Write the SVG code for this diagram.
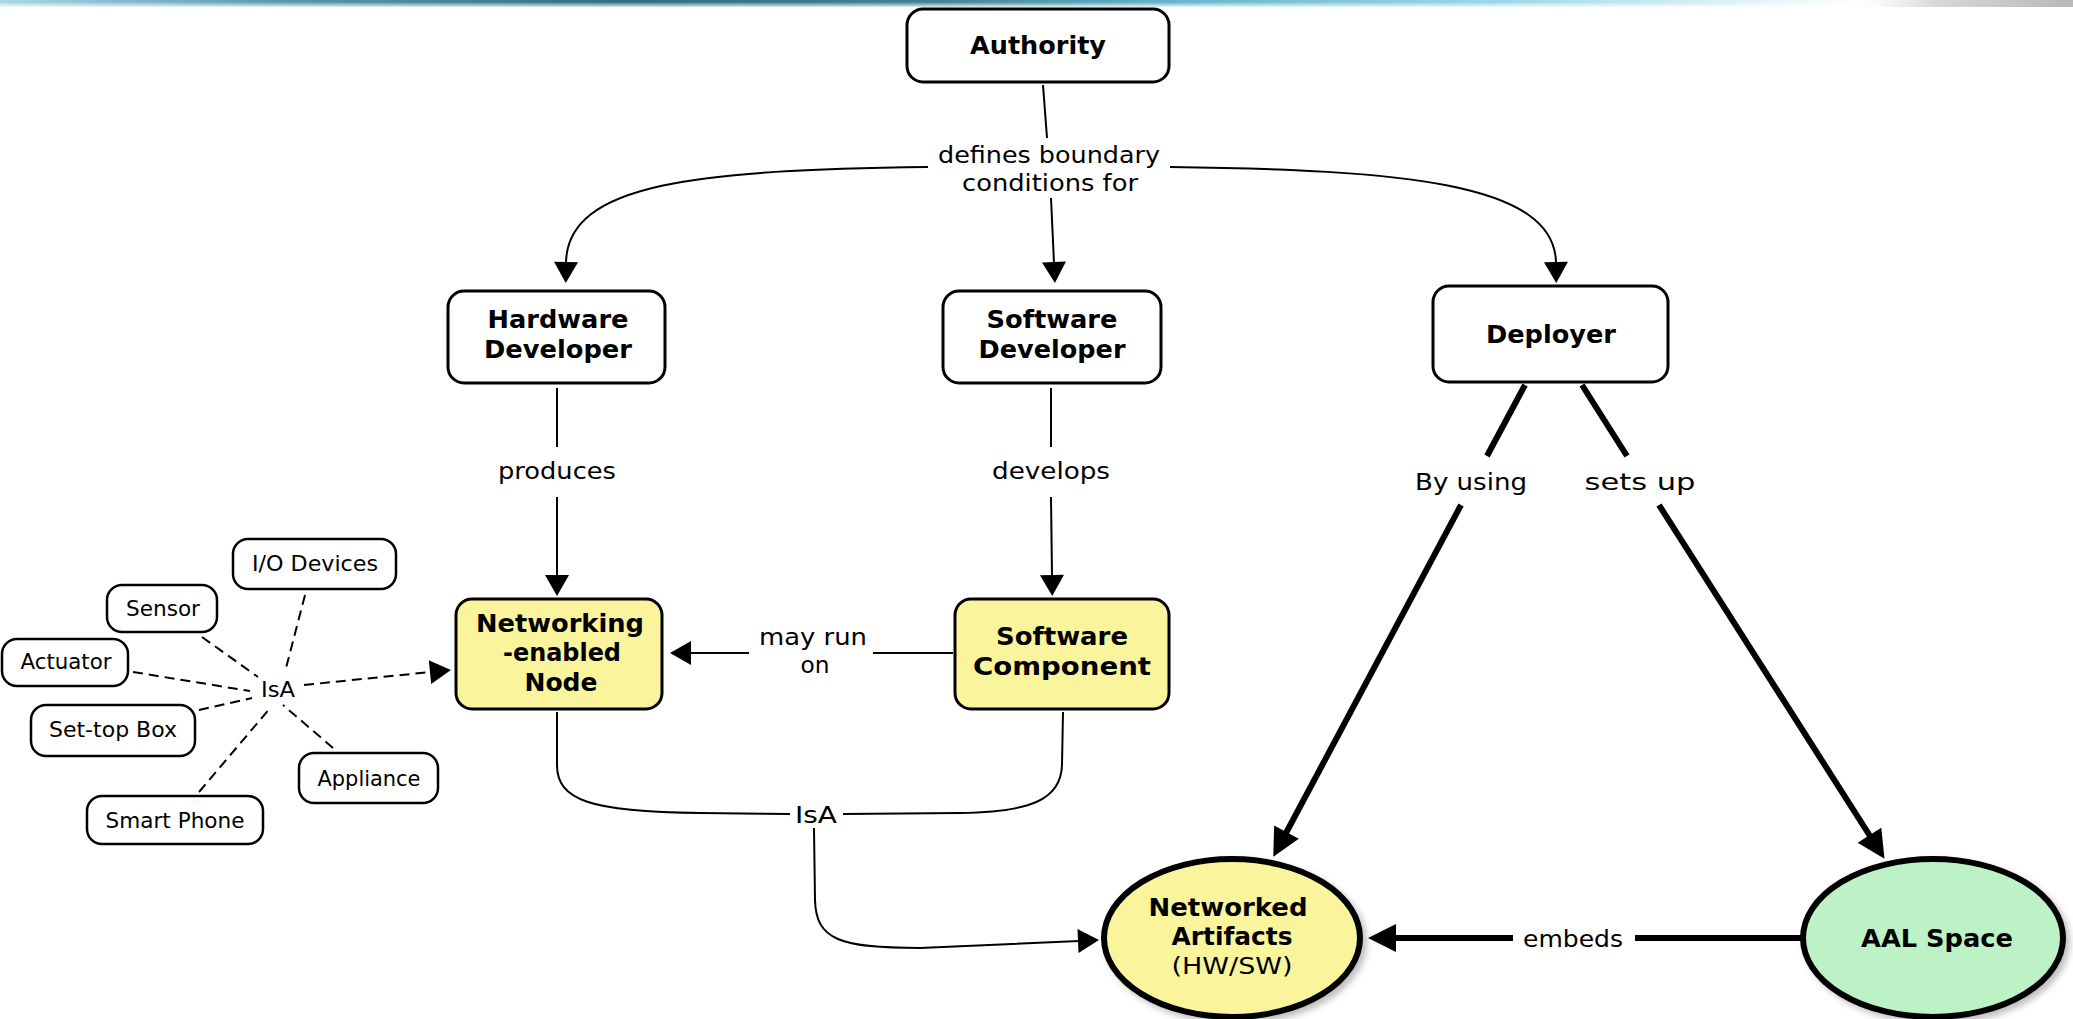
<svg xmlns="http://www.w3.org/2000/svg" width="2073" height="1019" viewBox="0 0 2073 1019">
  <defs>
    <style>
      .box { fill: #ffffff; stroke: #000000; stroke-width: 3; }
      .small { fill: #ffffff; stroke: #000000; stroke-width: 2.5; }
      .yellow { fill: #faf59c; }
      .oval { stroke: #000000; stroke-width: 6; filter: url(#soft); }
      .bold { font-family: "DejaVu Sans", Verdana, sans-serif; font-weight: bold; font-size: 25px; fill: #000000; text-anchor: middle; }
      .lbl { font-family: "DejaVu Sans", Verdana, sans-serif; font-size: 23px; fill: #000000; text-anchor: middle; }
      .sm { font-family: "DejaVu Sans", Verdana, sans-serif; font-size: 22px; fill: #000000; text-anchor: middle; }
      .thin { fill: none; stroke: #000000; stroke-width: 2; }
      .dash { fill: none; stroke: #000000; stroke-width: 2; stroke-dasharray: 10 6; }
      .thick { fill: none; stroke: #000000; stroke-width: 6; }
    </style>
    <linearGradient id="band" x1="0" y1="0" x2="1" y2="0">
      <stop offset="0" stop-color="#a9d6e4"/>
      <stop offset="0.13" stop-color="#5b9ab0"/>
      <stop offset="0.3" stop-color="#2f6d86"/>
      <stop offset="0.45" stop-color="#3f819b"/>
      <stop offset="0.58" stop-color="#6bb8cf"/>
      <stop offset="0.72" stop-color="#9ad6e6"/>
      <stop offset="0.85" stop-color="#e4f5f9"/>
      <stop offset="0.9" stop-color="#ffffff"/>
      <stop offset="1" stop-color="#ffffff"/>
    </linearGradient>
    <linearGradient id="greyband" x1="0" y1="0" x2="1" y2="0">
      <stop offset="0" stop-color="#ffffff" stop-opacity="0"/>
      <stop offset="0.4" stop-color="#d8d8d8"/>
      <stop offset="1" stop-color="#b8b8b8"/>
    </linearGradient>
    <linearGradient id="glow" x1="0" y1="0" x2="0" y2="1">
      <stop offset="0" stop-color="#ffffff" stop-opacity="0"/>
      <stop offset="1" stop-color="#ffffff" stop-opacity="1"/>
    </linearGradient>
    <filter id="soft" x="-10%" y="-10%" width="125%" height="130%">
      <feDropShadow dx="4" dy="4" stdDeviation="3" flood-color="#000000" flood-opacity="0.25"/>
    </filter>
    <marker id="ah" markerUnits="userSpaceOnUse" markerWidth="24" markerHeight="26" refX="1" refY="12" orient="auto" overflow="visible">
      <path d="M0,0 L21,12 L0,24 Z" fill="#000000"/>
    </marker>
    <marker id="ahb" markerUnits="userSpaceOnUse" markerWidth="30" markerHeight="30" refX="1" refY="14" orient="auto" overflow="visible">
      <path d="M0,0 L28,14 L0,28 Z" fill="#000000"/>
    </marker>
  </defs>

  <rect x="0" y="0" width="2073" height="1019" fill="#ffffff"/>

  <!-- header band -->
  <g id="header">
    <rect x="0" y="0" width="2073" height="7" fill="url(#band)"/>
    <rect x="0" y="2" width="2073" height="6" fill="url(#glow)"/>
    <rect x="1840" y="0" width="233" height="7" fill="url(#greyband)"/>
  </g>

  <!-- connectors -->
  <g id="connectors">
    <!-- Authority: defines boundary conditions for -->
    <path class="thin" d="M1043,85 L1047,138"/>
    <path class="thin" d="M928,167 C700,170 567,182 566,263" marker-end="url(#ah)"/>
    <path class="thin" d="M1051,198 L1054,263" marker-end="url(#ah)"/>
    <path class="thin" d="M1170,167 C1400,170 1555,182 1556,263" marker-end="url(#ah)"/>
    <text class="lbl" x="1049" y="163" textLength="222" lengthAdjust="spacingAndGlyphs">defines boundary</text>
    <text class="lbl" x="1050" y="191" textLength="176" lengthAdjust="spacingAndGlyphs">conditions for</text>

    <!-- produces -->
    <path class="thin" d="M557,388 L557,447"/>
    <path class="thin" d="M557,497 L557,576" marker-end="url(#ah)"/>
    <text class="lbl" x="557" y="479" textLength="118" lengthAdjust="spacingAndGlyphs">produces</text>

    <!-- develops -->
    <path class="thin" d="M1051,388 L1051,447"/>
    <path class="thin" d="M1051,497 L1052,576" marker-end="url(#ah)"/>
    <text class="lbl" x="1051" y="479" textLength="118" lengthAdjust="spacingAndGlyphs">develops</text>

    <!-- may run on -->
    <path class="thin" d="M953,653 L873,653"/>
    <path class="thin" d="M749,653 L690,653" marker-end="url(#ah)"/>
    <text class="lbl" x="813" y="645" textLength="108" lengthAdjust="spacingAndGlyphs">may run</text>
    <text class="lbl" x="815" y="673" textLength="29" lengthAdjust="spacingAndGlyphs">on</text>

    <!-- IsA: node / component to artifacts -->
    <path class="thin" d="M557,712 L557,765 C557,800 590,812 700,813 L790,814"/>
    <path class="thin" d="M1063,712 L1062,765 C1061,800 1030,812 960,813 L843,814"/>
    <path class="thin" d="M814,828 L815,900 C816,940 840,948 920,948 L1079,941" marker-end="url(#ah)"/>
    <text class="lbl" x="816" y="823" font-size="24" textLength="42" lengthAdjust="spacingAndGlyphs">IsA</text>

    <!-- IsA: device kinds to networking node -->
    <path class="dash" d="M202,637 L258,677"/>
    <path class="dash" d="M133,672 L250,691"/>
    <path class="dash" d="M199,710 L252,698"/>
    <path class="dash" d="M305,595 L285,672"/>
    <path class="dash" d="M199,792 L271,707"/>
    <path class="dash" d="M333,748 L283,705"/>
    <path class="dash" d="M304,685 L431,672" marker-end="url(#ah)"/>
    <text class="sm" x="278" y="697" textLength="34" lengthAdjust="spacingAndGlyphs">IsA</text>

    <!-- Deployer: By using -->
    <path class="thick" d="M1525,385 L1487,456"/>
    <path class="thick" d="M1461,505 L1286,833" marker-end="url(#ahb)"/>
    <text class="lbl" x="1471" y="490" textLength="112" lengthAdjust="spacingAndGlyphs">By using</text>

    <!-- Deployer: sets up -->
    <path class="thick" d="M1582,385 L1627,456"/>
    <path class="thick" d="M1659,505 L1870,836" marker-end="url(#ahb)"/>
    <text class="lbl" x="1640" y="490" textLength="111" lengthAdjust="spacingAndGlyphs">sets up</text>

    <!-- AAL Space embeds -->
    <path class="thick" d="M1803,938 L1635,938"/>
    <path class="thick" d="M1513,938 L1395,938" marker-end="url(#ahb)"/>
    <text class="lbl" x="1573" y="947" textLength="100" lengthAdjust="spacingAndGlyphs">embeds</text>
  </g>

  <!-- main nodes -->
  <g id="authority">
    <rect class="box" x="907" y="9" width="262" height="73" rx="16"/>
    <text class="bold" x="1038" y="54" textLength="136" lengthAdjust="spacingAndGlyphs">Authority</text>
  </g>

  <g id="hardware-developer">
    <rect class="box" x="448" y="291" width="217" height="92" rx="16"/>
    <text class="bold" x="558" y="328" textLength="141" lengthAdjust="spacingAndGlyphs">Hardware</text>
    <text class="bold" x="558" y="358" textLength="148" lengthAdjust="spacingAndGlyphs">Developer</text>
  </g>

  <g id="software-developer">
    <rect class="box" x="943" y="291" width="218" height="92" rx="16"/>
    <text class="bold" x="1052" y="328" textLength="131" lengthAdjust="spacingAndGlyphs">Software</text>
    <text class="bold" x="1052" y="358" textLength="147" lengthAdjust="spacingAndGlyphs">Developer</text>
  </g>

  <g id="deployer">
    <rect class="box" x="1433" y="286" width="235" height="96" rx="16"/>
    <text class="bold" x="1551" y="343" textLength="130" lengthAdjust="spacingAndGlyphs">Deployer</text>
  </g>

  <g id="networking-node">
    <rect class="box yellow" x="456" y="599" width="206" height="110" rx="16"/>
    <text class="bold" x="560" y="632" textLength="168" lengthAdjust="spacingAndGlyphs">Networking</text>
    <text class="bold" x="562" y="661" textLength="118" lengthAdjust="spacingAndGlyphs">-enabled</text>
    <text class="bold" x="561" y="691" textLength="73" lengthAdjust="spacingAndGlyphs">Node</text>
  </g>

  <g id="software-component">
    <rect class="box yellow" x="955" y="599" width="214" height="110" rx="16"/>
    <text class="bold" x="1062" y="645" textLength="132" lengthAdjust="spacingAndGlyphs">Software</text>
    <text class="bold" x="1062" y="675" textLength="178" lengthAdjust="spacingAndGlyphs">Component</text>
  </g>

  <g id="networked-artifacts">
    <ellipse class="oval" cx="1232" cy="938" rx="128" ry="79" fill="#faf59c"/>
    <text class="bold" x="1228" y="916" textLength="159" lengthAdjust="spacingAndGlyphs">Networked</text>
    <text class="bold" x="1232" y="945" textLength="121" lengthAdjust="spacingAndGlyphs">Artifacts</text>
    <text class="lbl" x="1232" y="974" font-size="24" textLength="121" lengthAdjust="spacingAndGlyphs">(HW/SW)</text>
  </g>

  <g id="aal-space">
    <ellipse class="oval" cx="1933" cy="938" rx="130" ry="79" fill="#bcf2c6"/>
    <text class="bold" x="1937" y="947" textLength="152" lengthAdjust="spacingAndGlyphs">AAL Space</text>
  </g>

  <!-- device kinds -->
  <g id="io-devices">
    <rect class="small" x="233" y="539" width="163" height="50" rx="15"/>
    <text class="sm" x="315" y="571" textLength="126" lengthAdjust="spacingAndGlyphs">I/O Devices</text>
  </g>
  <g id="sensor">
    <rect class="small" x="107" y="585" width="110" height="47" rx="15"/>
    <text class="sm" x="163" y="616" textLength="74" lengthAdjust="spacingAndGlyphs">Sensor</text>
  </g>
  <g id="actuator">
    <rect class="small" x="2" y="639" width="126" height="47" rx="15"/>
    <text class="sm" x="66" y="669" textLength="91" lengthAdjust="spacingAndGlyphs">Actuator</text>
  </g>
  <g id="set-top-box">
    <rect class="small" x="31" y="705" width="164" height="51" rx="15"/>
    <text class="sm" x="113" y="737" textLength="128" lengthAdjust="spacingAndGlyphs">Set-top Box</text>
  </g>
  <g id="appliance">
    <rect class="small" x="299" y="753" width="139" height="50" rx="15"/>
    <text class="sm" x="369" y="786" textLength="103" lengthAdjust="spacingAndGlyphs">Appliance</text>
  </g>
  <g id="smart-phone">
    <rect class="small" x="87" y="796" width="176" height="48" rx="15"/>
    <text class="sm" x="175" y="828" textLength="139" lengthAdjust="spacingAndGlyphs">Smart Phone</text>
  </g>
</svg>
